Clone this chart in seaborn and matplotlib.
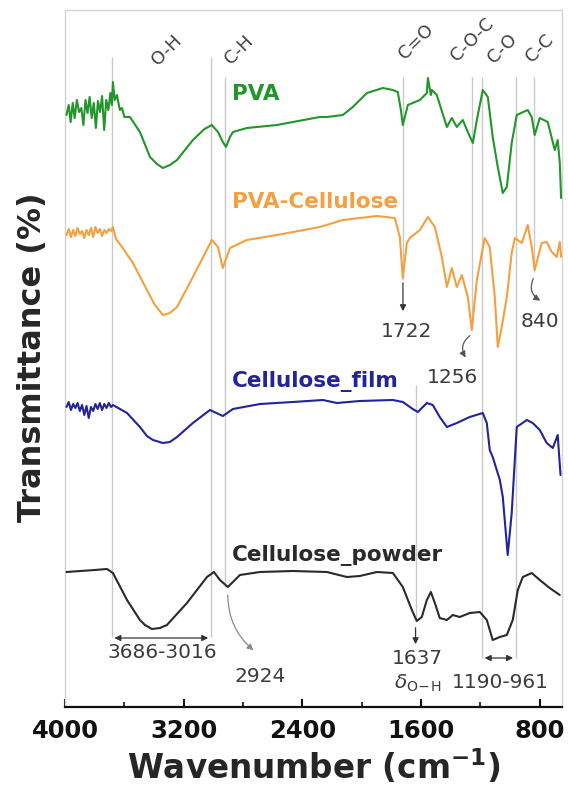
import matplotlib
matplotlib.use("Agg")
import matplotlib.pyplot as plt
import pandas as pd
import seaborn as sns

# ---- FTIR spectra (wavenumber in cm-1, stacked transmittance in arbitrary units) ----
pva_wn = [3990, 3975, 3962, 3948, 3935, 3920, 3905, 3890, 3876, 3862, 3848, 3834, 3820,
          3806, 3792, 3778, 3764, 3750, 3736, 3722, 3708, 3694, 3684, 3677, 3665, 3650,
          3630, 3616, 3600, 3562, 3495, 3427, 3380, 3340, 3293, 3245, 3138, 3060, 3010,
          2969, 2936, 2915, 2888, 2868, 2774, 2572, 2464, 2282, 2235, 2127, 2060, 1965,
          1858, 1790, 1757, 1736, 1723, 1689, 1608, 1561, 1554, 1534, 1527, 1494, 1426,
          1393, 1359, 1319, 1285, 1251, 1224, 1184, 1150, 1117, 1083, 1049, 1022, 989,
          955, 881, 854, 834, 800, 746, 699, 679, 665, 656]
pva_t = [592, 602, 585, 604, 589, 607, 595, 599, 582, 607, 594, 610, 589,
         604, 579, 606, 595, 611, 577, 607, 597, 614, 602, 625, 607, 612,
         597, 599, 590, 590, 575, 550, 543, 539, 542, 547, 567, 578, 582,
         575, 565, 560, 570, 575, 579, 582, 585, 590, 590, 592, 600, 614,
         619, 617, 615, 597, 582, 602, 607, 614, 629, 612, 617, 612, 580,
         589, 580, 587, 575, 564, 587, 617, 610, 570, 540, 514, 520, 564,
         592, 597, 590, 572, 589, 585, 557, 567, 544, 509]

pvacel_wn = [3990, 3975, 3960, 3945, 3930, 3915, 3900, 3885, 3870, 3855, 3840, 3825, 3810,
             3795, 3780, 3765, 3750, 3735, 3720, 3705, 3690, 3677, 3656, 3616, 3542, 3448,
             3394, 3340, 3293, 3245, 3138, 3010, 2969, 2936, 2888, 2774, 2572, 2282, 2127,
             1898, 1777, 1743, 1723, 1696, 1676, 1608, 1554, 1507, 1460, 1426, 1393, 1359,
             1325, 1285, 1258, 1224, 1171, 1137, 1103, 1083, 1056, 1022, 989, 968, 921,
             881, 854, 834, 787, 753, 719, 685, 665, 656]
pvacel_t = [472, 478, 470, 477, 471, 479, 473, 476, 469, 477, 472, 479, 470,
            480, 474, 478, 471, 477, 474, 478, 476, 480, 468, 460, 444, 417,
            402, 392, 394, 400, 430, 467, 460, 439, 459, 467, 472, 480, 487,
            491, 489, 470, 429, 464, 469, 477, 490, 480, 450, 420, 439, 420,
            432, 410, 377, 427, 469, 460, 410, 360, 380, 410, 454, 469, 464,
            482, 460, 437, 464, 465, 455, 450, 465, 450]

film_wn = [3990, 3975, 3960, 3945, 3930, 3915, 3900, 3885, 3870, 3855, 3840, 3825, 3810,
           3795, 3780, 3765, 3750, 3735, 3720, 3705, 3690, 3677, 3582, 3495, 3448, 3407,
           3340, 3293, 3245, 3138, 3023, 2936, 2868, 2686, 2464, 2262, 2167, 2013, 1790,
           1723, 1656, 1622, 1561, 1521, 1474, 1426, 1359, 1272, 1184, 1157, 1137, 1117,
           1069, 1049, 1016, 989, 955, 887, 847, 800, 753, 712, 679, 660]
film_t = [300, 305, 297, 303, 299, 304, 296, 302, 292, 301, 289, 300, 296,
          303, 298, 304, 297, 303, 299, 304, 300, 302, 294, 280, 271, 267,
          264, 265, 270, 284, 297, 291, 298, 303, 305, 307, 304, 306, 307,
          305, 298, 295, 304, 302, 290, 280, 284, 290, 294, 284, 257, 250,
          227, 210, 152, 194, 280, 287, 284, 277, 264, 259, 272, 232]

powder_wn = [3990, 3800, 3717, 3677, 3582, 3495, 3461, 3414, 3360, 3313, 3178, 3043, 2996,
             2956, 2902, 2821, 2686, 2464, 2235, 2100, 2013, 1898, 1790, 1723, 1662, 1629,
             1595, 1561, 1534, 1507, 1474, 1426, 1386, 1339, 1272, 1204, 1157, 1117, 1069,
             1022, 982, 948, 914, 854, 800, 733, 665]
powder_t = [135, 137, 138, 134, 107, 87, 82, 78, 79, 82, 104, 130, 135,
            127, 120, 132, 135, 136, 135, 130, 131, 135, 134, 120, 97, 86,
            90, 107, 115, 104, 89, 87, 92, 90, 94, 95, 87, 67, 70,
            72, 87, 117, 130, 134, 127, 119, 112]

samples = ["PVA", "PVA-Cellulose", "Cellulose_film", "Cellulose_powder"]
colors = ["#22962a", "#f5a040", "#23239a", "#2a2a2a"]

band_wn = [3686, 3016, 2924, 1722, 1637, 1256, 1190, 961, 840]
band_lo = [70, 70, 120, 427, 87, 377, 49, 49, 435]
band_hi = [650, 650, 630, 630, 322, 630, 630, 630, 630]

bond_names = ["O-H", "C-H", "C=O", "C-O-C", "C-O", "C-C"]
bond_pos = [(3313, 657), (2828, 657), (1635, 665), (1258, 667), (1049, 658), (800, 659)]

xticks_major = [4000, 3200, 2400, 1600, 800]
xticks_minor = [3600, 2800, 2000, 1200]

# ---- assemble long-form table ----
parts = []
for name, wn, t in zip(samples,
                       [pva_wn, pvacel_wn, film_wn, powder_wn],
                       [pva_t, pvacel_t, film_t, powder_t]):
    parts.append(pd.DataFrame({"wavenumber": wn, "T": t, "sample": name}))
df = pd.concat(parts, ignore_index=True)

sns.set_theme(style="white")
plt.rcParams["font.family"] = ["DejaVu Sans"]

fig = plt.figure(figsize=(5.68, 7.89), dpi=100)
ax = fig.add_axes([65 / 568, 82 / 789, 497 / 568, 697 / 789])

# reference band positions
ax.vlines(band_wn, band_lo, band_hi, colors="#c9c9c9", linewidth=1.0, zorder=1)

sns.lineplot(data=df, x="wavenumber", y="T", hue="sample", hue_order=samples,
             palette=colors, estimator=None, sort=False, legend=False,
             linewidth=1.5, ax=ax, zorder=3)

ax.set_xlim(4000, 650)
ax.set_ylim(0, 697)

# sample names
label_pos = [(2875, 607), (2875, 499), (2875, 320), (2875, 146)]
for name, col, (lx, ly) in zip(samples, colors, label_pos):
    ax.text(lx, ly, name, color=col, fontsize=15.5, fontweight="bold",
            ha="left", va="baseline")

# bond assignments
for name, (bx, by) in zip(bond_names, bond_pos):
    ax.text(bx, by, name, rotation=45, fontsize=13, color="#404040",
            ha="center", va="center")

ann = dict(fontsize=14.5, color="#3c3c3c", ha="center", va="center")
head = dict(arrowstyle="-|>", color="#333333", lw=0.9, mutation_scale=9)

# 1722
ax.annotate("", xy=(1722, 393), xytext=(1722, 427), arrowprops=head)
ax.text(1700, 375, "1722", **ann)
# 1256
ax.annotate("", xy=(1290, 347), xytext=(1256, 373),
            arrowprops=dict(head, connectionstyle="arc3,rad=0.5", color="#555555"))
ax.text(1386, 329, "1256", **ann)
# 840
ax.annotate("", xy=(780, 405), xytext=(836, 431),
            arrowprops=dict(head, connectionstyle="arc3,rad=0.5", color="#555555"))
ax.text(800, 385, "840", **ann)
# 2924
ax.annotate("", xy=(2715, 55), xytext=(2902, 115),
            arrowprops=dict(head, connectionstyle="arc3,rad=0.25", color="#8a8a8a"))
ax.text(2686, 31, "2924", **ann)
# 3686-3016
ax.annotate("", xy=(3016, 69), xytext=(3686, 69),
            arrowprops=dict(arrowstyle="<|-|>", color="#333333", lw=0.9, mutation_scale=9))
ax.text(3347, 54, "3686-3016", **ann)
# 1637
ax.annotate("", xy=(1637, 60), xytext=(1637, 82), arrowprops=head)
ax.text(1622, 49, "1637", **ann)
ax.text(1622, 24, r"$\delta_{\mathrm{O\!-\!H}}$", **ann)
# 1190-961
ax.annotate("", xy=(961, 49), xytext=(1190, 49),
            arrowprops=dict(arrowstyle="<|-|>", color="#333333", lw=0.9, mutation_scale=9))
ax.text(1069, 24, "1190-961", **ann)

# axes styling
for side in ["left", "top", "right"]:
    ax.spines[side].set_color("#d4d4d4")
    ax.spines[side].set_linewidth(1.0)
ax.spines["bottom"].set_color("#111111")
ax.spines["bottom"].set_linewidth(1.6)

ax.set_xticks(xticks_major)
ax.set_xticks(xticks_minor, minor=True)
ax.set_xticklabels([str(v) for v in xticks_major], fontsize=17.5, fontweight="bold")
ax.tick_params(axis="x", which="major", direction="in", length=6, width=1.5,
               bottom=True, top=False, pad=9, colors="#111111")
ax.tick_params(axis="x", which="minor", direction="in", length=3.5, width=1.2,
               bottom=True, top=False, colors="#111111")
ax.set_yticks([])

ax.set_xlabel("Wavenumber (cm$^{\\mathbf{-1}}$)", fontsize=23.5, fontweight="bold")
ax.set_ylabel("Transmittance (%)", fontsize=23, fontweight="bold")
ax.xaxis.set_label_coords(0.501, -0.058)
ax.yaxis.set_label_coords(-0.035, 0.502)

fig.savefig("out.png", dpi=100, facecolor="white")
